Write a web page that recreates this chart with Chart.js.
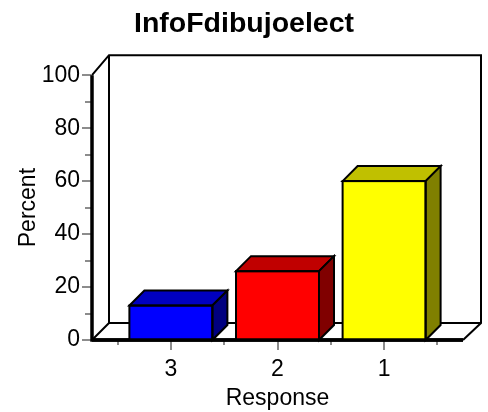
<!DOCTYPE html>
<html>
<head>
<meta charset="utf-8">
<script src="https://cdn.jsdelivr.net/npm/chart.js@4.4.1/dist/chart.umd.min.js"></script>
<style>
  html, body { margin: 0; padding: 0; background: #fff; }
  #wrap { width: 488px; height: 412px; }
</style>
</head>
<body>
<div id="wrap"><canvas id="myChart" width="488" height="412"></canvas></div>
<script>
const categories = ['3', '2', '1'];
const percents = [13, 26, 60];

const frontColors = ['#0000ff', '#ff0000', '#ffff00'];
const topColors = ['#0000c0', '#c00000', '#c0c000'];
const sideColors = ['#000080', '#800000', '#808000'];

const FONT = 'Arial, "Liberation Sans", sans-serif';

// depth of the box and of the bars
const wallDx = 17, wallDy = -17, wallTopDy = -20;
const barDx = 15, barDy = -15;

const box3d = {
    id: 'box3d',
    beforeDatasetsDraw(chart) {
        const ctx = chart.ctx;
        const a = chart.chartArea;
        const y = chart.scales.y;
        const x = chart.scales.x;
        ctx.save();
        ctx.lineJoin = 'miter';
        // back wall + floor
        ctx.strokeStyle = '#000';
        ctx.lineWidth = 2;
        ctx.beginPath();
        ctx.moveTo(a.left, a.top);
        ctx.lineTo(a.left + wallDx, a.top + wallTopDy);
        ctx.lineTo(a.right + wallDx + 1, a.top + wallTopDy);
        ctx.lineTo(a.right + wallDx + 1, a.bottom + wallDy);
        ctx.lineTo(a.right, a.bottom);
        ctx.stroke();
        ctx.beginPath();
        ctx.moveTo(a.left + wallDx, a.top + wallTopDy);
        ctx.lineTo(a.left + wallDx, a.bottom + wallDy);
        ctx.lineTo(a.right + wallDx + 1, a.bottom + wallDy);
        ctx.moveTo(a.left + wallDx, a.bottom + wallDy);
        ctx.lineTo(a.left, a.bottom);
        ctx.stroke();

        // gray ticks
        ctx.strokeStyle = '#8c8c8c';
        ctx.lineWidth = 2;
        ctx.beginPath();
        for (let v = 0; v <= 100; v += 10) {
            const py = Math.round(y.getPixelForValue(v));
            const len = v % 20 === 0 ? 10 : 7;
            ctx.moveTo(a.left - len, py);
            ctx.lineTo(a.left, py);
        }
        for (let i = -0.5; i <= categories.length; i += 0.5) {
            const px = Math.round(x.getPixelForValue(i));
            const len = Number.isInteger(i) ? 10 : 5;
            ctx.moveTo(px, a.bottom);
            ctx.lineTo(px, a.bottom + len);
        }
        ctx.stroke();

        // front axes
        ctx.strokeStyle = '#000';
        ctx.lineWidth = 3.5;
        ctx.beginPath();
        ctx.moveTo(a.left, a.top);
        ctx.lineTo(a.left, a.bottom);
        ctx.lineTo(a.right, a.bottom);
        ctx.stroke();
        ctx.restore();
    },
    afterDatasetsDraw(chart) {
        const ctx = chart.ctx;
        const meta = chart.getDatasetMeta(0);
        ctx.save();
        ctx.strokeStyle = '#000';
        ctx.lineWidth = 2;
        ctx.lineJoin = 'miter';
        meta.data.forEach((bar, i) => {
            const x0 = bar.x - bar.width / 2;
            const x1 = bar.x + bar.width / 2;
            const top = bar.y;
            const base = bar.base;
            // top face
            ctx.fillStyle = topColors[i];
            ctx.beginPath();
            ctx.moveTo(x0, top);
            ctx.lineTo(x0 + barDx, top + barDy);
            ctx.lineTo(x1 + barDx, top + barDy);
            ctx.lineTo(x1, top);
            ctx.closePath();
            ctx.fill();
            ctx.stroke();
            // side face
            ctx.fillStyle = sideColors[i];
            ctx.beginPath();
            ctx.moveTo(x1, top);
            ctx.lineTo(x1 + barDx, top + barDy);
            ctx.lineTo(x1 + barDx, base + barDy);
            ctx.lineTo(x1, base);
            ctx.closePath();
            ctx.fill();
            ctx.stroke();
            // front outline
            ctx.strokeRect(x0, top, x1 - x0, base - top);
        });
        // front axis over the bar bottoms
        const a = chart.chartArea;
        ctx.lineWidth = 3.5;
        ctx.beginPath();
        ctx.moveTo(a.left, a.bottom);
        ctx.lineTo(a.right, a.bottom);
        ctx.stroke();
        ctx.restore();
    }
};

new Chart(document.getElementById('myChart'), {
    type: 'bar',
    data: {
        datasets: [{
            label: 'Percent',
            data: percents.map((v, i) => ({ x: i, y: v })),
            backgroundColor: frontColors,
            borderWidth: 0,
            barThickness: 83
        }]
    },
    options: {
        responsive: false,
        animation: false,
        layout: { padding: 0 },
        plugins: {
            legend: { display: false },
            tooltip: { enabled: false },
            title: {
                display: true,
                text: 'InfoFdibujoelect',
                color: '#000',
                font: { family: FONT, size: 28.5, weight: 'bold', lineHeight: 1.2 },
                padding: { top: 7, bottom: 34 }
            }
        },
        scales: {
            x: {
                type: 'linear',
                min: -0.74,
                max: 2.74,
                offset: false,
                grid: { display: false, drawTicks: false },
                border: { display: false },
                afterBuildTicks: s => { s.ticks = categories.map((c, i) => ({ value: i })); },
                afterFit: s => { s.height = 72; },
                ticks: {
                    color: '#000',
                    font: { family: FONT, size: 23 },
                    padding: 16,
                    callback: v => categories[v]
                },
                title: {
                    display: true,
                    text: 'Response',
                    color: '#000',
                    font: { family: FONT, size: 23 },
                    padding: { top: 0, bottom: 0 }
                }
            },
            y: {
                min: 0,
                max: 100,
                grid: { display: false, drawTicks: false },
                border: { display: false },
                afterFit: s => { s.width = 92; },
                ticks: {
                    stepSize: 20,
                    color: '#000',
                    font: { family: FONT, size: 23 },
                    padding: 12
                },
                title: {
                    display: true,
                    text: 'Percent',
                    color: '#000',
                    font: { family: FONT, size: 23 },
                    padding: { top: 15, bottom: 0 }
                }
            },
            // empty axis that keeps the right margin
            yRight: {
                position: 'right',
                grid: { display: false, drawTicks: false },
                border: { display: false },
                ticks: { display: false },
                afterFit: s => { s.width = 25; }
            }
        }
    },
    plugins: [box3d]
});
</script>
</body>
</html>
